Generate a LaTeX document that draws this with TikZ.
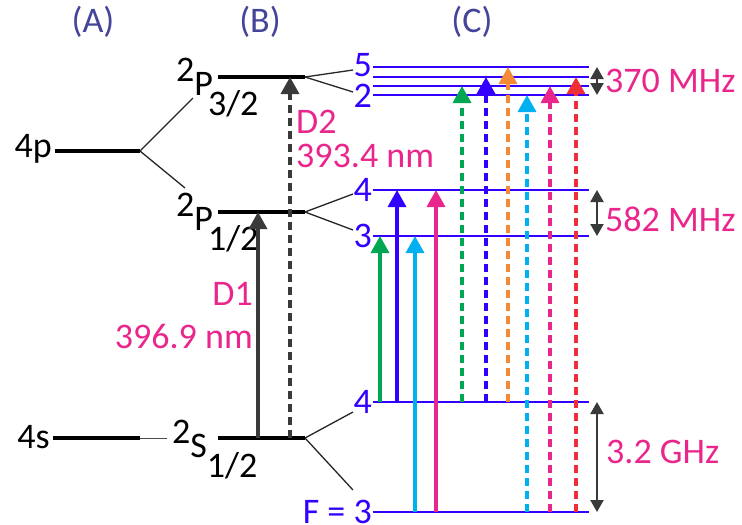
\documentclass[tikz,border=0pt]{standalone}
\usepackage{xcolor}
\usepackage{fontspec}
\setmainfont{Carlito}
\usepackage{tikz}
\usetikzlibrary{arrows.meta}

\definecolor{lvlblue}{RGB}{51,0,255}
\definecolor{tpink}{RGB}{233,38,140}
\definecolor{tgreen}{RGB}{0,166,81}
\definecolor{tcyan}{RGB}{0,176,240}
\definecolor{torange}{RGB}{245,138,54}
\definecolor{tred}{RGB}{238,47,58}
\definecolor{tgray}{RGB}{58,58,58}
\definecolor{panelblue}{RGB}{68,68,155}

\newcommand{\termsym}[4]{\raisebox{14pt}{#1}#2\kern#4\raisebox{-20pt}{#3}}

\begin{document}
\begin{tikzpicture}[x=1pt,y=-1pt,
  every node/.style={font=\fontsize{36}{38}\selectfont, inner sep=0pt},
  finelvl/.style={line width=4.5pt, black},
  hfslvl/.style={line width=2.5pt, lvlblue},
  split/.style={line width=1.3pt, black!85},
  trans/.style={line width=3.4pt, -{Triangle[width=18pt,length=17pt]}},
  dtrans/.style={trans, dash pattern=on 8pt off 5pt},
  gap/.style={line width=2.2pt, tgray, {Triangle[width=13pt,length=12pt]}-{Triangle[width=13pt,length=12pt]}}]
\useasboundingbox (0,0) rectangle (742,525);

% panel titles
\node[panelblue, anchor=base] (titleA) at (93,32) {(A)};
\node[panelblue, anchor=base] (titleB) at (260,32) {(B)};
\node[panelblue, anchor=base] (titleC) at (472,32) {(C)};

% (A) configurations
\node[anchor=base east] (lbl4p) at (52,157) {4p};
\node[anchor=base east] (lbl4s) at (50,448) {4s};
\coordinate (c4pw) at (55,151);
\coordinate (c4pe) at (140,151);
\coordinate (c4sw) at (53,438);
\coordinate (c4se) at (140,438);
\coordinate (c4sl) at (167,438);
\coordinate (tipP32) at (193,98);
\coordinate (tipP12) at (185,188);
\draw[finelvl] (c4pw) -- (c4pe);
\draw[finelvl] (c4sw) -- (c4se);
\draw[line width=1pt, black!70] (c4se) -- (c4sl);
\draw[split] (c4pe) -- (tipP32);
\draw[split] (c4pe) -- (tipP12);

% (B) fine structure
\node[anchor=base west] (lblP32) at (176,95) {\termsym{2}{P}{3/2}{-5pt}};
\node[anchor=base west] (lblP12) at (176,230) {\termsym{2}{P}{1/2}{-5pt}};
\node[anchor=base west] (lblS12) at (172,457) {\termsym{2}{S}{1/2}{0pt}};
\coordinate (P32w) at (218,77);
\coordinate (P32e) at (305,77);
\coordinate (P12w) at (218,212);
\coordinate (P12e) at (305,212);
\coordinate (S12w) at (218,438);
\coordinate (S12e) at (305,438);
\draw[finelvl] (P32w) -- (P32e);
\draw[finelvl] (P12w) -- (P12e);
\draw[finelvl] (S12w) -- (S12e);

% (C) hyperfine structure
\coordinate (a5w) at (373,67);  \coordinate (a5e) at (589,67);
\coordinate (a4w) at (373,77);  \coordinate (a4e) at (589,77);
\coordinate (a3w) at (373,86);  \coordinate (a3e) at (589,86);
\coordinate (a2w) at (373,95);  \coordinate (a2e) at (589,95);
\coordinate (b4w) at (373,190); \coordinate (b4e) at (589,190);
\coordinate (b3w) at (373,236); \coordinate (b3e) at (589,236);
\coordinate (g4w) at (373,402); \coordinate (g4e) at (589,402);
\coordinate (g3w) at (373,512); \coordinate (g3e) at (589,512);
\draw[hfslvl] (a5w) -- (a5e);
\draw[hfslvl] (a4w) -- (a4e);
\draw[hfslvl] (a3w) -- (a3e);
\draw[hfslvl] (a2w) -- (a2e);
\draw[hfslvl] (b4w) -- (b4e);
\draw[hfslvl] (b3w) -- (b3e);
\draw[hfslvl] (g4w) -- (g4e);
\draw[hfslvl] (g3w) -- (g3e);
\node[lvlblue, anchor=east] (lblA5) at ([xshift=-1pt,yshift=2pt]a5w) {5};
\node[lvlblue, anchor=east] (lblA2) at ([xshift=-1pt,yshift=-1pt]a2w) {2};
\node[lvlblue, anchor=east] (lblB4) at ([xshift=-1pt]b4w) {4};
\node[lvlblue, anchor=east] (lblB3) at ([xshift=-1pt]b3w) {3};
\node[lvlblue, anchor=east] (lblG4) at ([xshift=-1pt]g4w) {4};
\node[lvlblue, anchor=east] (lblG3) at ([xshift=-1pt]g3w) {F = 3};
\coordinate (hP32u) at (353,70);
\coordinate (hP32d) at (353,92);
\coordinate (hP12u) at (353,194);
\coordinate (hP12d) at (353,230);
\coordinate (hS12u) at (353,412);
\coordinate (hS12d) at (353,490);
\draw[split] (P32e) -- (hP32u);
\draw[split] (P32e) -- (hP32d);
\draw[split] (P12e) -- (hP12u);
\draw[split] (P12e) -- (hP12d);
\draw[split] (S12e) -- (hS12u);
\draw[split] (S12e) -- (hS12d);

% D lines
\draw[trans, tgray] (258,0 |- S12w) -- (258,0 |- P12w);
\draw[dtrans, tgray] (290,0 |- S12w) -- (290,0 |- P32w);
\node[tpink, anchor=north east, align=right] (lblD1) at (253,282) {D1\\[5pt]396.9 nm};
\node[tpink, anchor=north west, align=left] (lblD2) at (296,110) {D2\\[-4pt]393.4 nm};

% hyperfine transitions to P1/2
\draw[trans, tgreen] (380,0 |- g4w) -- (380,0 |- b3w);
\draw[trans, lvlblue] (397,0 |- g4w) -- (397,0 |- b4w);
\draw[trans, tcyan] (415,0 |- g3w) -- (415,0 |- b3w);
\draw[trans, tpink] (436,0 |- g3w) -- (436,0 |- b4w);

% hyperfine transitions to P3/2
\draw[dtrans, tgreen] (462,0 |- g4w) -- (462,0 |- a3w);
\draw[dtrans, lvlblue] (486,0 |- g4w) -- (486,0 |- a4w);
\draw[dtrans, torange] (508,0 |- g4w) -- (508,0 |- a5w);
\draw[dtrans, tcyan] (527,0 |- g3w) -- (527,0 |- a2w);
\draw[dtrans, tpink] (550,0 |- g3w) -- (550,0 |- a3w);
\draw[dtrans, tred] (576,0 |- g3w) -- (576,0 |- a4w);

% splittings
\draw[gap] ([xshift=8pt]a5e) -- ([xshift=8pt]a2e);
\draw[gap] ([xshift=8pt]b4e) -- ([xshift=8pt]b3e);
\draw[gap] ([xshift=8pt]g4e) -- ([xshift=8pt]g3e);
\node[tpink, anchor=west] (lbl370) at (605,81) {370 MHz};
\node[tpink, anchor=west] (lbl582) at (605,219) {582 MHz};
\node[tpink, anchor=west] (lbl32) at (606,452) {3.2 GHz};
\end{tikzpicture}
\end{document}
